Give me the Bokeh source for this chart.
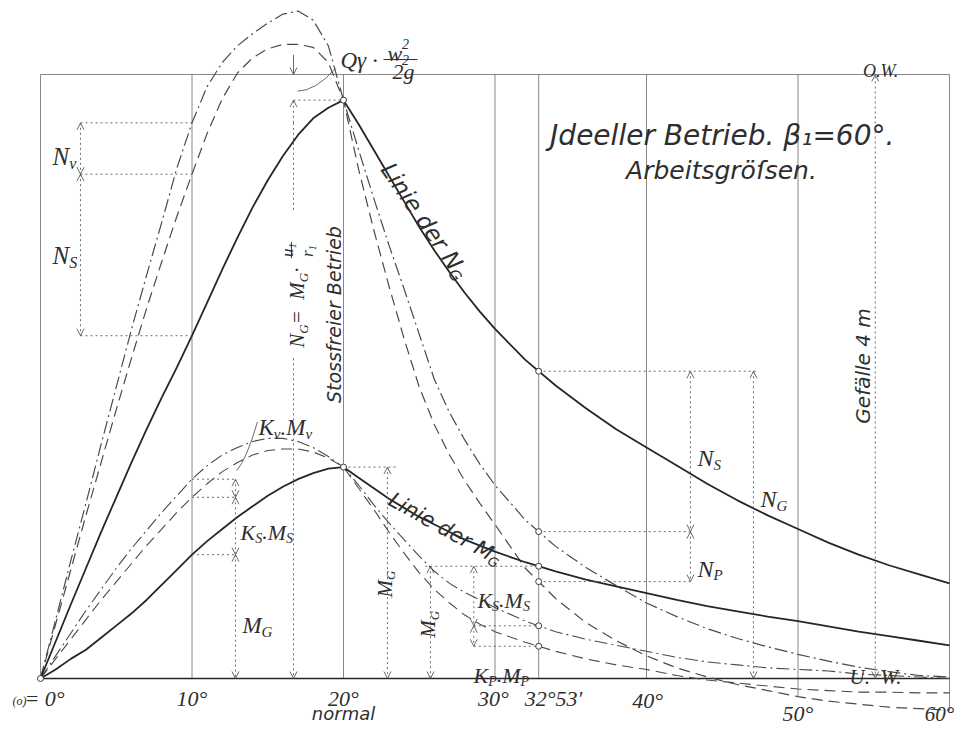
import math
import numpy as np
from bokeh.plotting import figure
from bokeh.models import Arrow, OpenHead
from bokeh.core.properties import value
from bokeh.embed import file_html
from bokeh.resources import INLINE

# ---------------- data (x: degrees, y: metres of head; O.W.-U.W. = 4 m) ----------------
x_rise = list(range(0, 21))
x_fall = list(range(20, 31)) + list(range(32, 61, 2))

# solid: Linie der N_G
ng_rise = [0.00, 0.245, 0.49, 0.73, 0.97, 1.20, 1.43, 1.65, 1.86, 2.06, 2.27,
           2.49, 2.71, 2.92, 3.12, 3.30, 3.46, 3.60, 3.71, 3.78, 3.83]
ng_fall = [3.83, 3.67, 3.50, 3.33, 3.16, 2.99, 2.835, 2.69, 2.555, 2.43, 2.315,
           2.11, 1.94, 1.79, 1.65, 1.53, 1.41, 1.29, 1.18, 1.08, 0.99, 0.90, 0.82, 0.75, 0.69, 0.63]
# dash-dot: N_G + N_S + N_v (resp. + N_P)
nt_rise = [0.00, 0.39, 0.78, 1.16, 1.55, 1.93, 2.31, 2.67, 3.02, 3.38, 3.68,
           3.92, 4.08, 4.19, 4.27, 4.34, 4.40, 4.42, 4.36, 4.19, 3.83]
nt_fall = [3.83, 3.50, 3.18, 2.87, 2.58, 2.28, 1.98, 1.76, 1.58, 1.42, 1.28,
           1.05, 0.875, 0.735, 0.615, 0.50, 0.41, 0.33, 0.265, 0.21, 0.16, 0.115, 0.075, 0.045, 0.02, 0.01]
# dashed: N_G + N_S
nd_rise = [0.00, 0.36, 0.72, 1.08, 1.43, 1.78, 2.12, 2.45, 2.76, 3.06, 3.34,
           3.61, 3.84, 4.01, 4.11, 4.17, 4.20, 4.20, 4.18, 4.08, 3.83]
nd_fall = [3.83, 3.37, 2.97, 2.60, 2.25, 1.93, 1.68, 1.48, 1.31, 1.16, 1.02,
           0.73, 0.53, 0.37, 0.25, 0.15, 0.07, 0.01, -0.04, -0.08, -0.12, -0.15, -0.17, -0.19, -0.20, -0.21]
# solid: Linie der M_G
mg_rise = [0.00, 0.06, 0.13, 0.19, 0.27, 0.35, 0.43, 0.52, 0.62, 0.72, 0.82,
           0.91, 0.99, 1.07, 1.14, 1.21, 1.27, 1.32, 1.36, 1.39, 1.40]
mg_fall = [1.40, 1.33, 1.26, 1.19, 1.13, 1.07, 1.02, 0.97, 0.92, 0.88, 0.84,
           0.77, 0.71, 0.655, 0.61, 0.565, 0.52, 0.48, 0.445, 0.41, 0.38, 0.345, 0.31, 0.28, 0.25, 0.22]
# dash-dot: M_G + K_S.M_S + K_v.M_v (resp. + K_P.M_P)
mt_rise = [0.00, 0.15, 0.30, 0.45, 0.59, 0.73, 0.86, 0.98, 1.10, 1.21, 1.32,
           1.41, 1.48, 1.53, 1.57, 1.59, 1.59, 1.57, 1.53, 1.47, 1.40]
mt_fall = [1.40, 1.28, 1.15, 1.03, 0.92, 0.81, 0.71, 0.63, 0.57, 0.52, 0.47,
           0.38, 0.31, 0.26, 0.22, 0.18, 0.14, 0.11, 0.09, 0.07, 0.06, 0.05, 0.03, 0.02, 0.01, 0.00]
# dashed: M_G + K_S.M_S
md_rise = [0.00, 0.13, 0.26, 0.39, 0.52, 0.64, 0.76, 0.88, 0.99, 1.10, 1.20,
           1.29, 1.37, 1.43, 1.48, 1.51, 1.52, 1.52, 1.50, 1.46, 1.40]
md_fall = [1.40, 1.26, 1.12, 0.97, 0.83, 0.70, 0.59, 0.50, 0.42, 0.36, 0.31,
           0.24, 0.18, 0.13, 0.09, 0.06, 0.02, -0.01, -0.03, -0.05, -0.07, -0.08, -0.09, -0.09, -0.095, -0.095]

grid_deg = [0, 10, 20, 30, 32 + 53 / 60, 40, 50, 60]
tick_labels = ["10°", "20°", "30°", "32°53′", "40°", "50°", "60°"]
GEFAELLE = 4.0
X_NORMAL = 20.0
X_MARK = 32 + 53 / 60

# ---------------- figure ----------------
PX_X = 15.15   # px per degree
PX_Y = 151.0   # px per metre
W, H = 963, 725
p = figure(width=W, height=H, x_range=(-40 / PX_X, (W - 40) / PX_X),
           y_range=((678 - H) / PX_Y, 678 / PX_Y),
           x_axis_type=None, y_axis_type=None, output_backend="svg",
           toolbar_location=None, min_border=0)
p.outline_line_color = None
p.background_fill_color = "white"
p.border_fill_color = "white"

INK = "#262626"
DASH = "#4a4a4a"
GRID = "#7a7a7a"
ANN = "#5a5a5a"
TXT = "#2e2e2e"

xs = x_rise + x_fall[1:]
def full(r, f):
    return r + f[1:]
NG, NT, ND = full(ng_rise, ng_fall), full(nt_rise, nt_fall), full(nd_rise, nd_fall)
MG, MT, MD = full(mg_rise, mg_fall), full(mt_rise, mt_fall), full(md_rise, md_fall)
def at(curve, x):
    return float(np.interp(x, xs, curve))

# frame and grid
lower = [min(0.0, at(ND, g)) for g in grid_deg]
p.segment(x0=grid_deg, y0=lower, x1=grid_deg, y1=[GEFAELLE] * len(grid_deg),
          line_color=GRID, line_width=0.9)
p.line([grid_deg[0], grid_deg[-1]], [GEFAELLE, GEFAELLE], line_color=GRID, line_width=0.9)
p.line([grid_deg[0], grid_deg[-1]], [0, 0], line_color=INK, line_width=1.5)

# curves
p.line(xs, NT, line_color=DASH, line_width=1.2, line_dash="13 4 2 4")
p.line(xs, ND, line_color=DASH, line_width=1.2, line_dash="11 6")
p.line(xs, MT, line_color=DASH, line_width=1.1, line_dash="13 4 2 4")
p.line(xs, MD, line_color=DASH, line_width=1.1, line_dash="11 6")
p.line(xs, NG, line_color=INK, line_width=1.8)
p.line(xs, MG, line_color=INK, line_width=1.8)

# ---------------- helpers ----------------
def dotted(x0, x1, ys):
    ys = list(ys)
    p.segment(x0=[x0] * len(ys), y0=ys, x1=[x1] * len(ys), y1=ys,
              line_color=ANN, line_width=0.9, line_dash="2 3")

def head():
    return OpenHead(size=7, line_width=0.9, line_color=ANN)

def darrow(x, y0, y1, both=True):
    p.add_layout(Arrow(x_start=x, y_start=y0, x_end=x, y_end=y1,
                       start=head() if both else None, end=head(),
                       line_color=ANN, line_width=0.9, line_dash="2 3"))

SERIF_W = {"A": .611, "G": .722, "K": .667, "M": .833, "N": .667, "P": .611, "Q": .722,
           "S": .5, "W": .833, "O": .722, "U": .722,
           "f": .278, "i": .278, "j": .278, "l": .278, "t": .278, "r": .389, "s": .389,
           "m": .722, "w": .667, "c": .444, "e": .444, "k": .444, "v": .444, "x": .444,
           "y": .444, "z": .389, " ": .25, ".": .25, "·": .25, "=": .675, "°": .4, "′": .3,
           "γ": .45}
SANS_W = {"G": .775, "N": .748, "M": .863, "L": .557, "B": .686, "J": .295, "A": .684,
          "i": .278, "l": .278, "j": .278, "f": .352, "r": .411, "t": .392, "s": .521,
          "c": .55, "m": .974, "w": .818, "v": .592, " ": .318, ".": .318, "=": .838,
          "°": .5, "ſ": .352}

def est_w(t, s, sans):
    table = SANS_W if sans else SERIF_W
    w = 0.0
    for ch in t:
        if ch in table:
            w += table[ch]
        elif ch.isupper():
            w += 0.70 if sans else 0.66
        elif ch.islower():
            w += 0.62 if sans else 0.5
        else:
            w += 0.64 if sans else 0.5
    return w * s

def offset(x, y, adv, shift, angle):
    ca, sa = math.cos(angle), math.sin(angle)
    sx = adv * ca + shift * sa
    sy = -adv * sa + shift * ca
    return x + sx / PX_X, y - sy / PX_Y

def rich(x, y, pieces, size, sans=False, angle=0.0, align="left", color=TXT):
    font = "DejaVu Sans" if sans else "Liberation Serif"
    sub = round(size * 0.64)
    widths = []
    for t, k in pieces:
        s = size if k[0] == "n" else sub
        widths.append(est_w(t, s, sans))
    total = sum(w for (t, k), w in zip(pieces, widths) if not k.endswith("!"))
    adv = {"left": 0.0, "center": -total / 2, "right": -total}[align]
    for (t, k), w in zip(pieces, widths):
        s = size if k[0] == "n" else sub
        shift = {"n": 0.0, "b": 0.28 * size, "p": -0.42 * size}[k[0]]
        px, py = offset(x, y, adv, shift, angle)
        p.text(x=[px], y=[py], text=[t], angle=angle, text_font=value(font),
               text_font_style="italic", text_font_size=f"{s}px", text_color=color,
               text_align="left", text_baseline="alphabetic")
        if not k.endswith("!"):
            adv += w
    return adv

def plain(x, y, t, size, sans=True, angle=0.0, align="center", baseline="alphabetic"):
    p.text(x=[x], y=[y], text=[t], angle=angle,
           text_font=value("DejaVu Sans" if sans else "Liberation Serif"),
           text_font_style="italic", text_font_size=f"{size}px", text_color=TXT,
           text_align=align, text_baseline=baseline)

ang = math.pi / 2

# ---------------- annotations: N at 10° ----------------
XB_N = 2.64
nt10, nd10, ng10 = at(NT, 10), at(ND, 10), at(NG, 10)
dotted(XB_N, 10, [nt10, nd10, ng10])
darrow(XB_N, nt10, nd10)
darrow(XB_N, nd10, ng10)
rich(0.79, 3.46, [("N", "n"), ("v", "b")], 25)
rich(0.79, 2.80, [("N", "n"), ("S", "b")], 25)

# Q gamma w2^2 / 2g  and  N_G = M_G u1/r1
XQ = 16.7
ng20 = at(NG, X_NORMAL)
dotted(XQ, X_NORMAL, [ng20])
p.add_layout(Arrow(x_start=XQ, y_start=GEFAELLE + 0.13, x_end=XQ, y_end=GEFAELLE, end=head(),
                   line_color=ANN, line_width=0.9))
p.add_layout(Arrow(x_start=XQ, y_start=ng20 - 0.15, x_end=XQ, y_end=ng20, end=head(),
                   line_color=ANN, line_width=0.9, line_dash="2 3"))
p.segment(x0=[XQ], y0=[ng20 - 0.15], x1=[XQ], y1=[3.1], line_color=ANN, line_width=0.9, line_dash="2 3")
darrow(XQ, 2.12, 0.0, both=False)
p.quadratic(x0=[19.47], y0=[4.04], x1=[16.96], y1=[3.89], cx=[18.15], cy=[3.89],
            line_color=ANN, line_width=0.9)
rich(19.8, 4.093, [("Q", "n"), (" γ ·", "n")], 23)
rich(22.9, 4.139, [("w", "n"), ("2", "p!"), ("2", "b")], 22)
p.segment(x0=[22.64], y0=[4.099], x1=[24.88], y1=[4.099], line_color=TXT, line_width=1.0)
rich(23.23, 4.02, [("2g", "n")], 22)

ax, ay = 16.96, 2.19
adv = rich(ax, ay, [("N", "n"), ("G", "b"), (" = ", "n"), ("M", "n"), ("G", "b"), (" · ", "n")],
           21, angle=ang)
fx, fy = offset(ax, ay, adv, -9.5, ang)
rich(fx, fy, [("u", "n"), ("1", "b")], 17, angle=ang)
gx, gy = offset(ax, ay, adv, 10.0, ang)
rich(gx, gy, [("r", "n"), ("1", "b")], 17, angle=ang)
b0x, b0y = offset(ax, ay, adv - 1, -6.0, ang)
b1x, b1y = offset(ax, ay, adv + 15, -6.0, ang)
p.segment(x0=[b0x], y0=[b0y], x1=[b1x], y1=[b1y], line_color=TXT, line_width=1.0)

plain(19.4, 2.41, "Stossfreier Betrieb", 19, angle=ang, baseline="middle")
rich(22.84, 3.40, [("Linie der N", "n"), ("G", "b")], 23, sans=True, angle=-0.967)

# ---------------- annotations: M at 10° ----------------
XB_M = 12.87
mt10, md10, mg10 = at(MT, 10), at(MD, 10), at(MG, 10)
dotted(10, XB_M, [mt10, md10, mg10])
darrow(XB_M, mt10, md10)
darrow(XB_M, md10, mg10)
darrow(XB_M, mg10, 0.0)
p.quadratic(x0=[12.95], y0=[1.377], x1=[14.32], y1=[1.70], cx=[13.6], cy=[1.45],
            line_color=ANN, line_width=0.9)
rich(14.39, 1.662, [("K", "n"), ("v", "b"), (".", "n"), ("M", "n"), ("v", "b")], 23)
rich(13.2, 0.967, [("K", "n"), ("S", "b"), (".", "n"), ("M", "n"), ("S", "b")], 22)
rich(13.33, 0.351, [("M", "n"), ("G", "b")], 23)

# M_G at the normal point
mg20 = at(MG, X_NORMAL)
dotted(X_NORMAL, 23.5, [mg20])
darrow(22.9, mg20, 0.0)
rich(22.71, 0.536, [("M", "n"), ("G", "b")], 21, angle=ang)
rich(23.1, at(MG, 23.1) + 0.01, [("Linie der M", "n"), ("G", "b")], 21, sans=True, angle=-0.508)

# ---------------- annotations at 32°53' ----------------
ng_k, nt_k, nd_k = at(NG, X_MARK), at(NT, X_MARK), at(ND, X_MARK)
mg_k, mt_k, md_k = at(MG, X_MARK), at(MT, X_MARK), at(MD, X_MARK)
dotted(25.4, X_MARK, [mg_k])
darrow(25.74, mg_k, 0.0)
rich(25.61, 0.27, [("M", "n"), ("G", "b")], 21, angle=ang)
dotted(28.6, X_MARK, [mt_k, md_k])
darrow(28.6, mg_k, mt_k)
darrow(28.6, mt_k, md_k)
rich(28.84, 0.517, [("K", "n"), ("S", "b"), (".", "n"), ("M", "n"), ("S", "b")], 22)
rich(28.58, 0.02, [("K", "n"), ("P", "b"), (".", "n"), ("M", "n"), ("P", "b")], 22)

XB_R, XB_G = 42.9, 47.06
dotted(X_MARK, XB_G + 0.25, [ng_k])
dotted(X_MARK, XB_R, [nt_k, nd_k])
darrow(XB_R, ng_k, nt_k)
darrow(XB_R, nt_k, nd_k)
darrow(XB_G, ng_k, 0.0)
rich(43.37, 1.457, [("N", "n"), ("S", "b")], 24)
rich(47.52, 1.19, [("N", "n"), ("G", "b")], 24)
rich(43.37, 0.728, [("N", "n"), ("P", "b")], 24)

# marker circles
cx_ = [X_MARK] * 6 + [X_NORMAL, X_NORMAL, 0]
cy_ = [ng_k, nt_k, nd_k, mg_k, mt_k, md_k, ng20, mg20, 0.0]
p.scatter(cx_, cy_, marker="circle", size=6, fill_color="white", line_color=INK, line_width=0.9)

# Gefälle
XGF = 55.1
darrow(XGF, 0.0, GEFAELLE)
plain(54.3, 2.07, "Gefälle 4 m", 20, angle=ang, baseline="middle")
plain(55.45, 4.02, "O.W.", 18, sans=False)
plain(XGF - 0.35, 0.01, "U.", 21, sans=False, align="right")
plain(XGF + 0.35, 0.01, "W.", 21, sans=False, align="left")

# titles
plain(45.0, 3.595, "Jdeeller Betrieb. β₁=60°.", 28)
plain(44.95, 3.364, "Arbeitsgröſsen.", 25)

# tick labels
tick_x = [10, 20, 29.9, 33.86, 40.07, 50.0, 60.3]
tick_y = [-0.13, -0.13, -0.13, -0.13, -0.146, -0.235, -0.232]
tick_s = [22, 22, 22, 22, 22, 22, 21]
tick_a = ["center"] * 6 + ["right"]
for tx, ty, tl, ts, ta in zip(tick_x, tick_y, tick_labels, tick_s, tick_a):
    plain(tx, ty, tl, ts, sans=False, align=ta)
plain(X_NORMAL, -0.232, "normal", 18)
plain(-1.85, -0.146, "(o)", 12, sans=False, align="left")
plain(-1.06, -0.132, "= 0°", 22, sans=False, align="left")

open("out.html", "w").write(file_html(p, INLINE))
